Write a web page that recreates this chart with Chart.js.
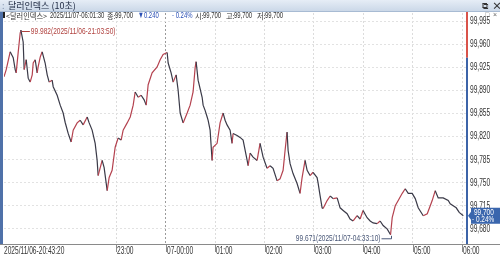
<!DOCTYPE html>
<html>
<head>
<meta charset="utf-8">
<script src="https://cdn.jsdelivr.net/npm/chart.js@4.4.1/dist/chart.umd.min.js"></script>
<style>
  body { margin: 0; width: 500px; height: 258px; overflow: hidden; background: #fff; position: relative; }
  #chart { position: absolute; left: 0; top: 0; }
  #titlebar { position: absolute; left: 0; top: 0; width: 500px; height: 11px; background: linear-gradient(#e6edf6, #cbd8e8); border-bottom: 1px solid #a8bbd3; }
  #titlebar span { position: absolute; white-space: nowrap; font-family: "Noto Sans CJK KR", sans-serif; line-height: 11px; }
  #leftbar { position: absolute; left: 0; top: 12px; width: 3px; height: 232px; background: #4f71a9; }
</style>
</head>
<body>
<canvas id="chart" width="500" height="258"></canvas>
<div id="titlebar">
  <span style="left:2px;font-size:9px;color:#8898b0">:</span>
  <span style="left:8px;font-size:9px;color:#1c2740">달러인덱스 (10초)</span>
  <span style="left:482px;font-size:9px;color:#333">⧉</span>
  <span style="left:492px;font-size:10px;color:#333;font-weight:bold">×</span>
</div>
<div id="leftbar"></div>
<script>
// minutes since 2025/11/06 20:43:20 (10-second bars, traced)
const startLabel = "2025/11/06-20:43:20";
const minutes = [
  0, 2.7, 7.5, 11.2, 13.6, 14.8, 17.3, 19.7, 20.5, 23.3, 24.5, 27, 29.4, 31.8, 34.3, 35.5,
  37.9, 40.3, 41.5, 44, 46.4, 50, 52.5, 54.9, 58.5, 59.8, 64.6, 68.3, 71.9, 74.3, 78, 81.6,
  84.1, 88.9, 92.6, 96.2, 101.1, 103.5, 107.1, 110.8, 113.2, 114.4, 119.3, 121.7, 125.4, 127.8, 131.4, 135.1,
  138.7, 142.4, 144.8, 149.7, 153.4, 157, 159.4, 163.1, 166.7, 170.3, 172.8, 175.2, 180, 186.1,
  189.8, 193.4, 198.3, 199.5, 203.1, 205.6, 209.2, 211.6, 214.1, 217.7, 222.6, 226.2, 229.8, 232.3,
  233.5, 235.9, 240.8, 242, 244.4, 246.9, 248.1, 250.5, 252.9, 254.1, 259, 262.6, 266.3, 268.7,
  271.1, 274.8, 277.2, 278.4, 283.3, 286.9, 290.6, 295.5, 296.7, 299.1, 302.7, 307.6, 311.2, 314.9,
  319.7, 323.4, 327, 331.9, 335.5, 339.2, 341.6, 344, 345.3, 347.7, 351.3, 356.2, 359.8, 362.3,
  365.9, 368.4, 372, 375.6, 380.5, 381.7, 384.2, 386.6, 387.8, 392.7, 396.4, 400, 404.9, 408.5,
  412.2, 417, 420.6, 424.3, 429.2, 432.8, 436.4, 441.3, 445, 448.6, 453.5, 457.1, 460.8, 465.6,
  469.8, 471.8, 475.5, 479.1, 484, 487.6, 491.3, 496.1, 499.8, 503.4, 509.5, 514.4, 520.4, 524.1,
  527.7, 533.8, 539.9, 542.3, 545.9, 549.6, 553.2, 558.2
];
const prices = [
  99.911, 99.922, 99.949, 99.940, 99.922, 99.917, 99.949, 99.978, 99.982, 99.964, 99.922, 99.937, 99.909, 99.903, 99.914, 99.932,
  99.937, 99.917, 99.926, 99.941, 99.949, 99.932, 99.914, 99.903, 99.906, 99.896, 99.883, 99.868, 99.856, 99.842, 99.825, 99.812,
  99.830, 99.841, 99.845, 99.838, 99.850, 99.841, 99.830, 99.810, 99.784, 99.761, 99.784, 99.773, 99.738, 99.758, 99.769, 99.804,
  99.818, 99.815, 99.830, 99.841, 99.850, 99.868, 99.888, 99.880, 99.883, 99.876, 99.868, 99.899, 99.917, 99.926,
  99.937, 99.945, 99.948, 99.932, 99.917, 99.903, 99.914, 99.891, 99.856, 99.841, 99.856, 99.868, 99.888, 99.925,
  99.934, 99.906, 99.880, 99.868, 99.860, 99.850, 99.845, 99.830, 99.784, 99.804, 99.810, 99.841, 99.856, 99.845,
  99.838, 99.830, 99.810, 99.825, 99.822, 99.819, 99.815, 99.784, 99.776, 99.795, 99.789, 99.784, 99.810, 99.789,
  99.772, 99.776, 99.772, 99.753, 99.756, 99.769, 99.799, 99.827, 99.799, 99.779, 99.764, 99.749, 99.734, 99.758,
  99.784, 99.769, 99.761, 99.766, 99.758, 99.750, 99.730, 99.712, 99.711, 99.723, 99.730, 99.726, 99.727, 99.712,
  99.708, 99.703, 99.695, 99.692, 99.700, 99.695, 99.708, 99.697, 99.692, 99.689, 99.688, 99.692, 99.685, 99.680,
  99.671, 99.697, 99.715, 99.723, 99.734, 99.741, 99.734, 99.734, 99.726, 99.712, 99.700, 99.703, 99.723, 99.738,
  99.727, 99.727, 99.723, 99.718, 99.715, 99.712, 99.705, 99.700
];
const hourTicks = [136.67, 196.67, 256.67, 316.67, 376.67, 436.67, 496.67, 556.67];
const hourLabels = ["23:00", "07-00:00", "01:00", "02:00", "03:00", "04:00", "05:00", "06:00"];
const priceTicks = [99.680, 99.715, 99.750, 99.785, 99.820, 99.855, 99.890, 99.925, 99.960, 99.995];
const prevClose = 99.940;
const highMark = { m: 20.5, p: 99.982, text: "99.982(2025/11/06-21:03:50)" };
const lowMark = { m: 469.8, p: 99.671, text: "99.671(2025/11/07-04:33:10)" };
const lastPrice = 99.700;
const lastChange = "- 0.24%";
// header line: [text, x, colour, korean?]
const infoItems = [
  ["<달러인덱스>", 6, "#333", true],
  ["2025/11/07-06:01:30", 50, "#333", false],
  ["종:", 107, "#333", true], ["99,700", 115, "#333", false],
  ["▼0.240", 138, "#2a4fb5", false],
  ["- 0.24%", 172, "#2a4fb5", false],
  ["시:", 195, "#333", true], ["99,700", 203, "#333", false],
  ["고:", 226, "#333", true], ["99,700", 234, "#333", false],
  ["저:", 257, "#333", true], ["99,700", 265, "#333", false]
];

const numFont = "10px 'Liberation Sans', Arial, sans-serif";
const infoFont = "9px 'Liberation Sans', Arial, sans-serif";
const krFont = "8px 'Noto Sans CJK KR', sans-serif";
const fmt = v => v.toFixed(3).replace(".", ",");

function squeezeText(ctx, text, x, y, align, sx) {
  ctx.save();
  ctx.translate(x, y);
  ctx.scale(sx, 1);
  ctx.textAlign = align;
  ctx.fillText(text, 0, 0);
  ctx.restore();
}

const overlay = {
  id: "overlay",
  afterDraw(chart) {
    const { ctx, chartArea: a, scales: { x, y } } = chart;
    ctx.save();
    ctx.textBaseline = "middle";

    // x axis line + small ticks
    ctx.strokeStyle = "#8a8a8a";
    ctx.lineWidth = 1;
    ctx.beginPath();
    ctx.moveTo(0, a.bottom + 0.5); ctx.lineTo(500, a.bottom + 0.5);
    hourTicks.forEach(v => {
      const px = Math.round(x.getPixelForValue(v)) + 0.5;
      ctx.moveTo(px, a.bottom + 1); ctx.lineTo(px, a.bottom + 8);
    });
    ctx.stroke();

    // x labels
    ctx.font = numFont;
    ctx.fillStyle = "#333";
    squeezeText(ctx, startLabel, x.getPixelForValue(0), a.bottom + 7.5, "left", 0.66);
    hourTicks.forEach((v, i) => {
      squeezeText(ctx, hourLabels[i], Math.round(x.getPixelForValue(v)) + 1, a.bottom + 7.5, "left", 0.66);
    });

    // y labels
    priceTicks.forEach(v => {
      squeezeText(ctx, fmt(v), a.right + 3, y.getPixelForValue(v), "left", 0.66);
    });

    // right axis: red above previous close, blue below
    const yc = y.getPixelForValue(prevClose);
    ctx.lineWidth = 2;
    ctx.strokeStyle = "#d9534a";
    ctx.beginPath(); ctx.moveTo(a.right, a.top - 2); ctx.lineTo(a.right, yc); ctx.stroke();
    ctx.strokeStyle = "#3d64a8";
    ctx.beginPath(); ctx.moveTo(a.right, yc); ctx.lineTo(a.right, a.bottom); ctx.stroke();

    // header info line
    infoItems.forEach(([t, px, col, kr]) => {
      ctx.fillStyle = col;
      ctx.font = kr ? krFont : infoFont;
      squeezeText(ctx, t, px, 15.5, "left", kr ? 0.9 : 0.66);
    });
    ctx.fillStyle = "#222";
    ctx.fillRect(3, 12, 2, 6);
    ctx.fillStyle = "#666";
    ctx.font = "7px 'Liberation Sans', sans-serif";
    ctx.fillText("□", 485, 15.5);
    ctx.fillText("×", 493, 15.5);

    ctx.font = infoFont;
    ctx.lineWidth = 1;
    // high marker
    const hx = x.getPixelForValue(highMark.m), hy = Math.round(y.getPixelForValue(highMark.p)) + 1.5;
    ctx.strokeStyle = "#b0413e"; ctx.fillStyle = "#b0413e";
    ctx.beginPath(); ctx.moveTo(hx + 1, hy); ctx.lineTo(hx + 9, hy); ctx.stroke();
    squeezeText(ctx, highMark.text, hx + 10, hy, "left", 0.73);

    // low marker
    const lx = Math.round(x.getPixelForValue(lowMark.m)) + 0.5, ly = y.getPixelForValue(lowMark.p);
    ctx.strokeStyle = "#4a5878"; ctx.fillStyle = "#4a5878";
    ctx.beginPath();
    ctx.moveTo(lx, ly + 1); ctx.lineTo(lx, ly + 4); ctx.lineTo(lx - 10, ly + 4);
    ctx.stroke();
    squeezeText(ctx, lowMark.text, lx - 11, ly + 4, "right", 0.73);

    // last price tag
    const py = y.getPixelForValue(lastPrice);
    ctx.fillStyle = "#3a66ad";
    ctx.beginPath();
    ctx.moveTo(a.right + 1, py);
    ctx.lineTo(a.right + 4, py - 4);
    ctx.lineTo(a.right + 4, py - 8);
    ctx.lineTo(500, py - 8);
    ctx.lineTo(500, py + 8);
    ctx.lineTo(a.right + 4, py + 8);
    ctx.lineTo(a.right + 4, py + 4);
    ctx.closePath();
    ctx.fill();
    ctx.fillStyle = "#fff";
    ctx.font = infoFont;
    squeezeText(ctx, fmt(lastPrice), a.right + 7, py - 3.5, "left", 0.72);
    squeezeText(ctx, lastChange, a.right + 5, py + 4, "left", 0.72);
    ctx.restore();
  }
};

new Chart(document.getElementById("chart"), {
  type: "line",
  data: {
    datasets: [{
      data: minutes.map((m, i) => ({ x: m, y: prices[i] })),
      borderWidth: 1.2,
      borderColor: "#3a3a48",
      pointRadius: 0,
      tension: 0,
      segment: {
        borderColor: c => c.p1.parsed.y > c.p0.parsed.y ? "#b4424f" : "#3a3a48"
      }
    }]
  },
  options: {
    responsive: false,
    animation: false,
    devicePixelRatio: 1,
    layout: { padding: { left: 4, top: 13, right: 0, bottom: 0 } },
    plugins: { legend: { display: false }, tooltip: { enabled: false } },
    scales: {
      x: {
        type: "linear",
        min: 0,
        max: 562.7,
        afterBuildTicks: s => { s.ticks = [{ value: 0 }].concat(hourTicks.map(v => ({ value: v }))); },
        afterFit: s => { s.height = 14; },
        ticks: { display: false },
        grid: {
          drawTicks: false,
          color: c => c.index === 0 ? "rgba(0,0,0,0)" : (c.index === 2 ? "#9a9a9a" : "#dcdcdc")
        },
        border: { display: false, dash: [2, 2] }
      },
      y: {
        position: "right",
        min: 99.657,
        max: 100.008,
        afterBuildTicks: s => { s.ticks = priceTicks.map(v => ({ value: v })); },
        afterFit: s => { s.width = 33; },
        ticks: { display: false },
        grid: { drawTicks: false, color: "#e2e2e2" },
        border: { display: false, dash: [2, 2] }
      }
    }
  },
  plugins: [overlay]
});
</script>
</body>
</html>
